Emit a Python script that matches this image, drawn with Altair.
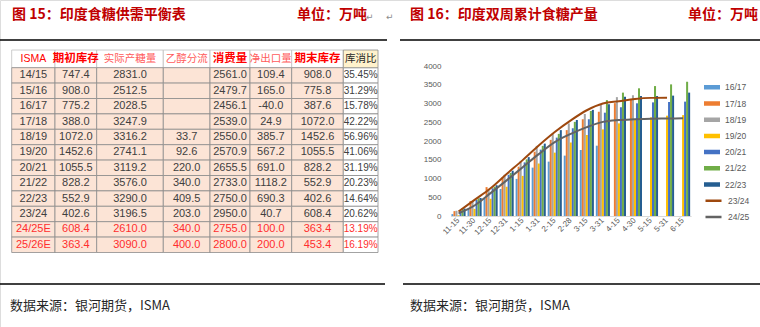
import altair as alt
import pandas as pd

# ---------------- texts ----------------
TABLE_TITLE = "图 15：印度食糖供需平衡表"
CHART_TITLE = "图 16：印度双周累计食糖产量"
UNIT_TEXT = "单位：万吨"
SOURCE_TEXT = "数据来源：银河期货，ISMA"
RETURN_MARK = "↵"

# ---------------- Figure 15: balance table ----------------
TABLE_HEADERS = ["ISMA", "期初库存", "实际产糖量", "乙醇分流", "消费量", "净出口量", "期末库存", "库消比"]
TABLE_SEASONS = ["14/15", "15/16", "16/17", "17/18", "18/19", "19/20", "20/21",
                 "21/22", "22/23", "23/24", "24/25E", "25/26E"]
BEGIN_STOCK = [747.4, 908.0, 775.2, 388.0, 1072.0, 1452.6, 1055.5, 828.2, 552.9, 402.6, 608.4, 363.4]
PRODUCTION = [2831.0, 2512.5, 2028.5, 3247.9, 3316.2, 2741.1, 3119.2, 3576.0, 3290.0, 3196.5, 2610.0, 3090.0]
ETHANOL = [None, None, None, None, 33.7, 92.6, 220.0, 340.0, 409.5, 203.0, 340.0, 400.0]
CONSUMPTION = [2561.0, 2479.7, 2456.1, 2539.0, 2550.0, 2570.9, 2655.5, 2733.0, 2750.0, 2950.0, 2755.0, 2800.0]
NET_EXPORT = [109.4, 165.0, -40.0, 24.9, 385.7, 567.2, 691.0, 1118.2, 690.3, 40.7, 100.0, 200.0]
END_STOCK = [908.0, 775.8, 387.6, 1072.0, 1452.6, 1055.5, 828.2, 552.9, 402.6, 608.4, 363.4, 453.4]
STOCK_RATIO = ["35.45%", "31.29%", "15.78%", "42.22%", "56.96%", "41.06%", "31.19%",
               "20.23%", "14.64%", "20.62%", "13.19%", "16.19%"]

# ---------------- Figure 16: cumulative bi-weekly production ----------------
DATES = ["11-15", "11-30", "12-15", "12-31", "1-15", "1-31", "2-15", "2-28",
         "3-15", "3-31", "4-15", "4-30", "5-15", "5-31", "6-15"]
BAR_SEASONS = ["16/17", "17/18", "18/19", "19/20", "20/21", "21/22", "22/23"]
LINE_SEASONS = ["23/24", "24/25"]
S16_17 = [50, 190, 470, 720, 990, 1290, 1450, 1610, 1760, 1875, None, None, None, None, None]
S17_18 = [130, 400, 770, 1030, 1315, 1715, 2030, 2290, 2580, 2780, 3010, 3110, None, None, None]
S18_19 = [140, 400, 705, 1100, 1470, 1870, 2190, 2470, 2720, 2960, 3170, 3220, None, None, None]
S19_20 = [20, 190, 460, 780, 1070, 1400, 1690, 1960, 2160, 2310, 2470, 2560, 2630, 2675, 2690]
S20_21 = [140, 430, 740, 1100, 1430, 1770, 2090, 2340, 2580, 2755, 2900, 3005, 3030, 3040, 3050]
S21_22 = [210, 470, 780, 1150, 1510, 1870, 2190, 2510, 2800, 3090, 3290, 3405, 3465, 3510, 3580]
S22_23 = [200, 480, 820, 1210, 1570, 1930, 2290, 2560, 2830, 2980, 3180, 3200, 3200, 3210, 3290]
S23_24 = [120, 430, 740, 1120, 1490, 1880, 2240, 2550, 2820, 3000, 3060, 3120, 3150, 3155, None]
S24_25 = [70, 280, 610, 950, 1300, 1650, 1970, 2190, 2370, 2510, 2560, 2580, 2595, 2600, 2605]
BAR_VALUES = [S16_17, S17_18, S18_19, S19_20, S20_21, S21_22, S22_23]
LINE_VALUES = [S23_24, S24_25]

# ---------------- styles / layout ----------------
BAR_COLORS = ["#5B9BD5", "#ED7D31", "#A5A5A5", "#FFC000", "#4472C4", "#70AD47", "#255E91"]
LINE_COLORS = ["#9E480E", "#636363"]
HEADER_STYLE = ["isma", "strong", "light", "light", "strong", "light", "strong", "ratio"]
COL_W = [43.3, 41.7, 66.6, 46.7, 40.0, 41.7, 51.6, 34.7]
HEAD_H = 17.7
ROW_H = 15.4
CJK = "Noto Sans CJK SC"
NUM_FONT = "Liberation Sans Narrow, Liberation Sans, Noto Sans CJK SC"

# ---------------- build table frame ----------------
edges = [0.0]
for w in COL_W:
    edges.append(edges[-1] + w)
cells = []
for c, h in enumerate(TABLE_HEADERS):
    cells.append(dict(row=-1, col=c, x0=edges[c], x1=edges[c + 1], xc=(edges[c] + edges[c + 1]) / 2,
                      y0=0.0, y1=HEAD_H, yc=HEAD_H / 2, text=h, kind=HEADER_STYLE[c]))


def fmt(v):
    return "" if v is None else f"{v:.1f}"


for r, s in enumerate(TABLE_SEASONS):
    vals = [s, fmt(BEGIN_STOCK[r]), fmt(PRODUCTION[r]), fmt(ETHANOL[r]), fmt(CONSUMPTION[r]),
            fmt(NET_EXPORT[r]), fmt(END_STOCK[r]), STOCK_RATIO[r]]
    y0 = HEAD_H + r * ROW_H
    for c, v in enumerate(vals):
        cells.append(dict(row=r, col=c, x0=edges[c], x1=edges[c + 1], xc=(edges[c] + edges[c + 1]) / 2,
                          y0=y0, y1=y0 + ROW_H, yc=y0 + ROW_H / 2, text=v,
                          kind="est" if s.endswith("E") else "act"))
cells = pd.DataFrame(cells)

SX = alt.Scale(domain=[0, edges[-1]], range=[11.7, 378], nice=False, zero=False)
SY = alt.Scale(domain=[0, HEAD_H + len(TABLE_SEASONS) * ROW_H],
               range=[50, 50 + HEAD_H + len(TABLE_SEASONS) * ROW_H], nice=False, zero=False)


def rect_layer(df, fill, stroke):
    return alt.Chart(df).mark_rect(fill=fill, stroke=stroke, strokeWidth=0.8).encode(
        x=alt.X("x0:Q", scale=SX, axis=None), x2="x1:Q",
        y=alt.Y("y0:Q", scale=SY, axis=None), y2="y1:Q")


def text_layer(df, color, size, font, weight="normal"):
    return alt.Chart(df).mark_text(color=color, fontSize=size, font=font, fontWeight=weight,
                                   align="center", baseline="middle").encode(
        x=alt.X("xc:Q", scale=SX, axis=None),
        y=alt.Y("yc:Q", scale=SY, axis=None),
        text="text:N")


head = cells[cells.row == -1]
body = cells[cells.row >= 0]
body_main = body[body.col < 7]
body_ratio = body[body.col == 7]
table_layers = [
    rect_layer(head[head.col < 7], "#FFFFFF", "#BFBFBF"),
    rect_layer(body_main, "#FCE4D6", "#8C8C8C"),
    rect_layer(body_ratio, "#FFFFFF", "#8C8C8C"),
    rect_layer(head[head.col == 7], "#FFF2CC", "#8C8C8C"),
    text_layer(head[head.kind == "isma"], "#FF0000", 10.5, "Liberation Sans"),
    text_layer(head[head.kind == "strong"], "#FF0000", 11.5, CJK, "bold"),
    text_layer(head[head.kind == "light"], "#FF5B5B", 10.5, CJK),
    text_layer(head[head.kind == "ratio"], "#262626", 10.5, CJK),
    text_layer(body_main[body_main.kind == "act"], "#404040", 11, NUM_FONT),
    text_layer(body_main[body_main.kind == "est"], "#FF2E2E", 11, NUM_FONT),
    text_layer(body_ratio[body_ratio.kind == "act"], "#404040", 10, NUM_FONT),
    text_layer(body_ratio[body_ratio.kind == "est"], "#FF2E2E", 10, NUM_FONT),
]

# ---------------- build chart frames ----------------
bar_rows = []
for s, vals in zip(BAR_SEASONS, BAR_VALUES):
    for i, (d, v) in enumerate(zip(DATES, vals)):
        if v is not None:
            bar_rows.append(dict(date=d, season=s, value=v, idx=i))
bars_df = pd.DataFrame(bar_rows)
line_rows = []
for s, vals in zip(LINE_SEASONS, LINE_VALUES):
    for i, (d, v) in enumerate(zip(DATES, vals)):
        if v is not None:
            line_rows.append(dict(date=d, season=s, value=v, idx=i))
lines_df = pd.DataFrame(line_rows)

SXD = alt.Scale(domain=DATES, range=[450.5, 691.1], paddingInner=0.12, paddingOuter=0.06)
SYV = alt.Scale(domain=[0, 4000], range=[216, 66], nice=False, zero=True)
X_AXIS = alt.Axis(orient="bottom", offset=-111, domain=True, domainColor="#D9D9D9", domainWidth=1,
                  ticks=False, grid=False, labelAngle=-45, labelAlign="right", labelBaseline="middle",
                  labelFontSize=8, labelColor="#595959", labelFont="Liberation Sans", labelPadding=3,
                  labelOverlap=False, title=None)
Y_AXIS = alt.Axis(orient="left", offset=-445, values=list(range(0, 4001, 500)), format="d",
                  domain=False, ticks=False, grid=False, labelFontSize=8, labelColor="#595959",
                  labelFont="Liberation Sans", labelPadding=4, title=None)

bars = alt.Chart(bars_df).mark_bar().encode(
    x=alt.X("date:N", scale=SXD, axis=X_AXIS),
    xOffset=alt.XOffset("season:N", scale=alt.Scale(domain=BAR_SEASONS, paddingInner=0, paddingOuter=0)),
    y=alt.Y("value:Q", scale=SYV, axis=Y_AXIS),
    fill=alt.Fill("season:N", scale=alt.Scale(domain=BAR_SEASONS, range=BAR_COLORS),
                  legend=alt.Legend(orient="none", legendX=704, legendY=79.3, title=None,
                                    symbolType="M-1,-0.28H1V0.28H-1Z", symbolSize=256,
                                    symbolStrokeWidth=0, labelFontSize=8.5, labelColor="#595959",
                                    labelFont="Liberation Sans", rowPadding=0.2, clipHeight=16,
                                    labelOffset=5, padding=0)),
)
lines = alt.Chart(lines_df).mark_line(interpolate="monotone", strokeWidth=2).encode(
    x=alt.X("date:N", scale=SXD, axis=X_AXIS),
    y=alt.Y("value:Q", scale=SYV, axis=Y_AXIS),
    order=alt.Order("idx:Q"),
    stroke=alt.Stroke("season:N", scale=alt.Scale(domain=LINE_SEASONS, range=LINE_COLORS),
                      legend=alt.Legend(orient="none", legendX=704, legendY=192.7, title=None,
                                        symbolType="stroke", symbolSize=256, symbolStrokeWidth=2.5,
                                        labelFontSize=8.5, labelColor="#595959",
                                        labelFont="Liberation Sans", rowPadding=0.2, clipHeight=16,
                                        labelOffset=5, padding=0)),
)
chart_layer = alt.layer(bars, lines)

# ---------------- annotations ----------------
one = pd.DataFrame({"k": [0]})


def label(text, x, y, size=14, color="#C00000", weight="bold", font=CJK):
    return alt.Chart(pd.DataFrame({"t": [text]})).mark_text(
        align="left", baseline="middle", fontSize=size, color=color, fontWeight=weight, font=font
    ).encode(x=alt.value(x), y=alt.value(y), text="t:N")


def hline(x1, x2, y):
    return alt.Chart(one).mark_rule(color="#000000", strokeWidth=1.6).encode(
        x=alt.value(x1), x2=alt.value(x2), y=alt.value(y))


annotations = [
    label(TABLE_TITLE, 12, 15),
    label(UNIT_TEXT, 297, 15),
    label(RETURN_MARK, 366, 17, size=9, color="#8C8C8C", weight="normal", font="DejaVu Sans"),
    label(RETURN_MARK, 386, 17, size=9, color="#8C8C8C", weight="normal", font="DejaVu Sans"),
    label(CHART_TITLE, 410, 15),
    label(UNIT_TEXT, 688, 15),
    hline(0, 387, 40),
    hline(400, 760, 40),
    hline(0, 385, 284),
    hline(403, 760, 284),
    label(SOURCE_TEXT, 10, 306, size=13, color="#262626", weight="normal"),
    label(SOURCE_TEXT, 410, 306, size=13, color="#262626", weight="normal"),
]

chart = alt.layer(*table_layers, chart_layer, *annotations).resolve_scale(
    x="independent", y="independent"
).properties(
    width=760, height=327, padding=0, autosize=alt.AutoSizeParams(type="none")
).configure_view(stroke=None).configure(background="#FFFFFF")

chart.save("out.html", embed_options={"renderer": "svg", "actions": False})
